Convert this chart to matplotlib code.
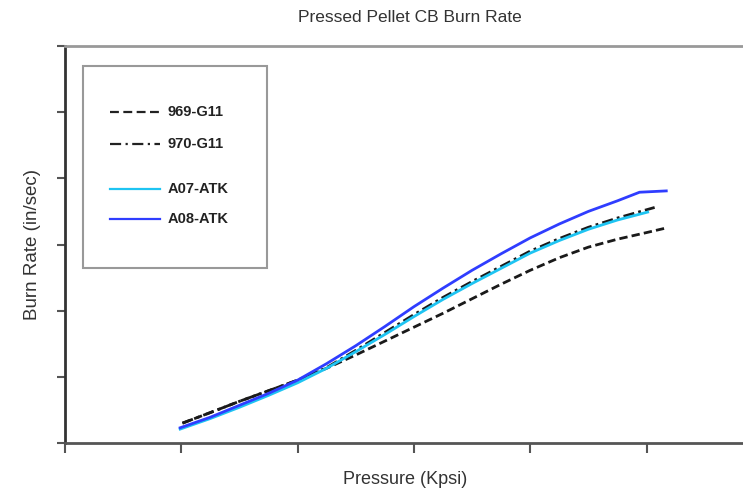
import matplotlib
matplotlib.use("Agg")
import matplotlib.pyplot as plt
from matplotlib.patches import Rectangle

# burn rate curves, in tick units (no numeric tick labels)
x_969 = [1.01, 1.25, 1.5, 1.75, 2.0, 2.25, 2.5, 2.75, 3.0, 3.25, 3.5, 3.75,
         4.0, 4.25, 4.5, 4.75, 5.0, 5.17]
y_969 = [0.30, 0.46, 0.63, 0.79, 0.95, 1.13, 1.33, 1.54, 1.75, 1.96, 2.18, 2.40,
         2.61, 2.80, 2.96, 3.08, 3.18, 3.25]

x_970 = [1.01, 1.25, 1.5, 1.75, 2.0, 2.25, 2.5, 2.75, 3.0, 3.25, 3.5, 3.75,
         4.0, 4.25, 4.5, 4.75, 5.07]
y_970 = [0.30, 0.46, 0.63, 0.79, 0.95, 1.14, 1.40, 1.67, 1.94, 2.20, 2.44, 2.67,
         2.90, 3.09, 3.26, 3.40, 3.56]

x_a07 = [0.99, 1.25, 1.5, 1.75, 2.0, 2.25, 2.5, 2.75, 3.0, 3.25, 3.5, 3.75,
         4.0, 4.25, 4.5, 4.75, 5.01]
y_a07 = [0.21, 0.37, 0.54, 0.72, 0.91, 1.13, 1.38, 1.64, 1.91, 2.17, 2.41, 2.64,
         2.87, 3.06, 3.23, 3.37, 3.49]

x_a08 = [0.99, 1.25, 1.5, 1.75, 2.0, 2.25, 2.5, 2.75, 3.0, 3.25, 3.5, 3.75,
         4.0, 4.25, 4.5, 4.75, 4.94, 5.17]
y_a08 = [0.23, 0.39, 0.57, 0.75, 0.95, 1.20, 1.47, 1.76, 2.06, 2.34, 2.61, 2.86,
         3.10, 3.31, 3.50, 3.66, 3.79, 3.81]

x_ticks = [0, 1, 2, 3, 4, 5]
y_ticks = [0, 1, 2, 3, 4, 5, 6]

plt.rcParams['font.family'] = ['Liberation Sans', 'DejaVu Sans']

fig = plt.figure(figsize=(7.43, 4.91), dpi=100)
ax = fig.add_axes([65/743, 48/491, 678/743, 397/491])

ax.plot(x_969, y_969, color='#1a1a1a', lw=2, linestyle=(0, (3, 1.5)))
ax.plot(x_970, y_970, color='#1a1a1a', lw=2, linestyle=(0, (4, 1.5, 1, 1.5)))
ax.plot(x_a07, y_a07, color='#1ec4f2', lw=2)
ax.plot(x_a08, y_a08, color='#2f3dff', lw=2)

ax.set_xlim(0, 678/116.3)
ax.set_ylim(0, 6)
ax.set_xticks(x_ticks)
ax.set_yticks(y_ticks)
ax.set_xticklabels([])
ax.set_yticklabels([])
ax.tick_params(axis='x', direction='out', length=7, width=1.5, color='#555555')
ax.tick_params(axis='y', direction='out', length=6, width=1.5, color='#555555')

ax.spines['right'].set_visible(False)
ax.spines['left'].set_color('#333333')
ax.spines['left'].set_linewidth(2)
ax.spines['bottom'].set_color('#555555')
ax.spines['bottom'].set_linewidth(2)
ax.spines['top'].set_color('#999999')
ax.spines['top'].set_linewidth(2)

fig.text(410/743, 1 - 18/491, 'Pressed Pellet CB Burn Rate', ha='center', va='center',
         fontsize=12.5, color='#333333')
fig.text(405/743, 1 - 479/491, 'Pressure (Kpsi)', ha='center', va='center',
         fontsize=13, color='#333333')
fig.text(33/743, 1 - 245/491, 'Burn Rate (in/sec)', ha='center', va='center',
         rotation=90, fontsize=13.5, color='#333333')

# legend box drawn by hand to keep the gap between the two groups
ax.add_patch(Rectangle((0.0265, 0.4408), 0.298 - 0.0265, 0.9496 - 0.4408,
                       transform=ax.transAxes, fill=False, edgecolor='#999999', lw=1.5))
legend_rows = [
    ('969-G11', 0.8338, '#222222', (0, (4, 2))),
    ('970-G11', 0.7531, '#222222', (0, (5, 2, 1, 2))),
    ('A07-ATK', 0.6398, '#1ec4f2', '-'),
    ('A08-ATK', 0.5642, '#2f3dff', '-'),
]
for label, yy, col, ls in legend_rows:
    ax.plot([0.0664, 0.1401], [yy, yy], transform=ax.transAxes, color=col, lw=1.6,
            linestyle=ls)
    ax.text(0.1519, yy, label, transform=ax.transAxes, ha='left', va='center',
            fontsize=10.5, fontweight='bold', color='#222222')

fig.savefig('out.png', dpi=100)
